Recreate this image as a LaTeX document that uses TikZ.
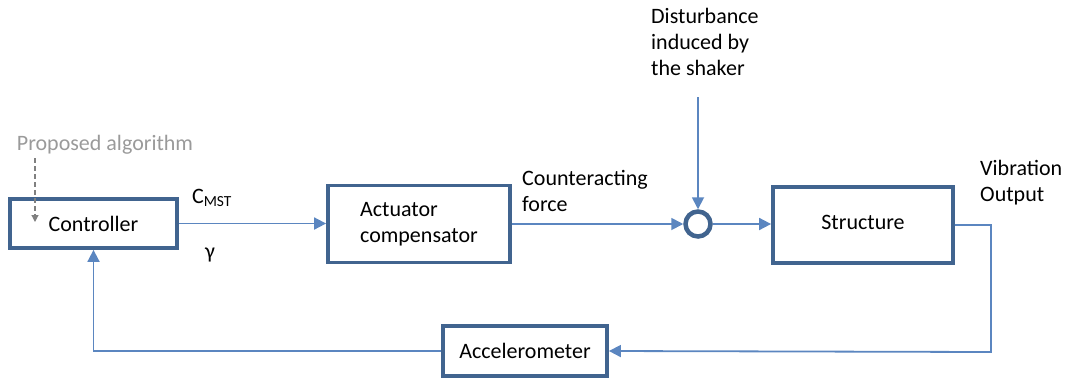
\documentclass[tikz,border=0pt]{standalone}
\usepackage{fontspec}
\setmainfont{Carlito}
\usepackage{tikz}
\usetikzlibrary{positioning}
\usetikzlibrary{shapes,arrows,arrows.meta}
\definecolor{boxblue}{HTML}{41648F}
\definecolor{lineblue}{HTML}{5B86C0}
\definecolor{algray}{HTML}{9A9A9A}
\definecolor{dashgray}{HTML}{808080}

\begin{document}
\begin{tikzpicture}[x=1pt,y=-1pt,>={Triangle[length=12pt,width=12pt]},
  block/.style={draw=boxblue,line width=3.8pt,rectangle,align=left,font=\fontsize{22}{26}\selectfont},
  lbl/.style={align=left,inner sep=0pt,font=\fontsize{22}{26}\selectfont},
  sig/.style={draw=lineblue,line width=1.8pt,->}]
\useasboundingbox (0,0) rectangle (1067,381);

\node [block,minimum width=167pt,minimum height=49pt](ctrl) at (93.5,223.5){Controller};
\node [block,minimum width=182pt,minimum height=77pt](act) at (419,224){Actuator\\compensator};
\node [circle,draw=boxblue,line width=4.5pt,minimum size=25pt,inner sep=0pt](sum) at (698,224){};
\node [block,minimum width=180pt,minimum height=76pt](struct) at (863,225){\raisebox{5pt}{Structure}};
\node [block,minimum width=164pt,minimum height=50pt](accel) at (525,351){Accelerometer};

% labels
\node [lbl,text=algray](alg) at (105,145){Proposed algorithm};
\node [lbl](cmst) at (212,198){C\textsubscript{MST}};
\node [lbl](gam) at (210,255){γ};
\node [lbl,anchor=north west](cforce) at (522,170){Counteracting\\force};
\node [lbl,anchor=north west](dist) at (651,8){Disturbance\\induced by\\the shaker};
\node [lbl,anchor=north west](vibout) at (980,160){Vibration\\Output};

\coordinate (algend) at (35,222);
\coordinate (distin) at (698,97);
\coordinate (outcorner) at (991,352);

\draw[dashgray,dash pattern=on 5pt off 3pt,line width=1.2pt,-{Triangle[length=7pt,width=7pt]}](algend |- 0,158) -- (algend);
\path[sig](ctrl.east) -- (ctrl.east -| act.west);
\path[sig](act.east |- sum) -- (sum.west);
\path[sig](distin) -- (sum.north);
\path[sig](sum.east) -- (sum -| struct.west);
\path[sig](struct.east) -| (outcorner) -- (accel.east);
\path[sig](accel.west) -| (ctrl.south);
\end{tikzpicture}
\end{document}
